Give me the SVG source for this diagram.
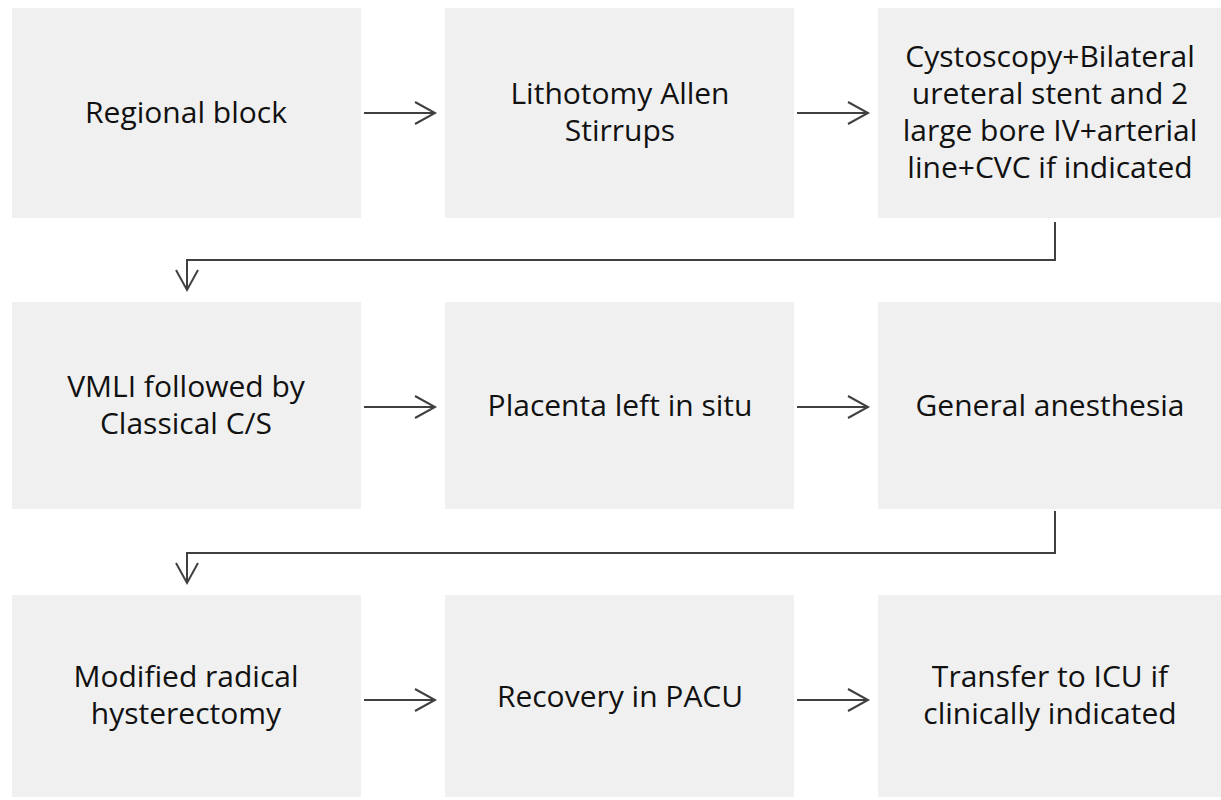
<svg xmlns="http://www.w3.org/2000/svg" width="1221" height="800" viewBox="0 0 1221 800">
<style>
.box{fill:#f0f0f0}
.t{font-family:"Open Sans","Liberation Sans",sans-serif;font-size:30px;fill:#111111;text-anchor:middle}
.c{fill:none;stroke:#404040;stroke-width:2}
</style>
<defs>
<marker id="ah" markerUnits="userSpaceOnUse" markerWidth="26" markerHeight="30" viewBox="-22 -13 26 26" refX="0" refY="0" orient="auto">
<path d="M-20,-11 L0,0 L-20,11" fill="none" stroke="#404040" stroke-width="2"/>
</marker>
</defs>
<rect width="1221" height="800" fill="#ffffff"/>
<g id="n1"><rect class="box" x="12" y="8" width="349" height="210"/><text class="t" x="186" y="123">Regional block</text></g>
<g id="n2"><rect class="box" x="445" y="8" width="349" height="210"/><text class="t" x="620" y="104">Lithotomy Allen</text><text class="t" x="620" y="141">Stirrups</text></g>
<g id="n3"><rect class="box" x="878" y="8" width="343" height="210"/><text class="t" x="1050" y="67">Cystoscopy+Bilateral</text><text class="t" x="1050" y="104">ureteral stent and 2</text><text class="t" x="1050" y="141">large bore IV+arterial</text><text class="t" x="1050" y="178">line+CVC if indicated</text></g>
<g id="n4"><rect class="box" x="12" y="302" width="349" height="207"/><text class="t" x="186" y="397">VMLI followed by</text><text class="t" x="186" y="434">Classical C/S</text></g>
<g id="n5"><rect class="box" x="445" y="302" width="349" height="207"/><text class="t" x="620" y="416">Placenta left in situ</text></g>
<g id="n6"><rect class="box" x="878" y="302" width="343" height="207"/><text class="t" x="1050" y="416">General anesthesia</text></g>
<g id="n7"><rect class="box" x="12" y="595" width="349" height="202"/><text class="t" x="186" y="687">Modified radical</text><text class="t" x="186" y="724">hysterectomy</text></g>
<g id="n8"><rect class="box" x="445" y="595" width="349" height="202"/><text class="t" x="620" y="707">Recovery in PACU</text></g>
<g id="n9"><rect class="box" x="878" y="595" width="343" height="202"/><text class="t" x="1050" y="687">Transfer to ICU if</text><text class="t" x="1050" y="724">clinically indicated</text></g>
<g id="connectors">
<path class="c" d="M364,113 H435" marker-end="url(#ah)"/>
<path class="c" d="M797,113 H868" marker-end="url(#ah)"/>
<path class="c" d="M1055,222 V260 H187 V290" marker-end="url(#ah)"/>
<path class="c" d="M364,407 H435" marker-end="url(#ah)"/>
<path class="c" d="M797,407 H868" marker-end="url(#ah)"/>
<path class="c" d="M1055,511 V553 H187 V583" marker-end="url(#ah)"/>
<path class="c" d="M364,700 H435" marker-end="url(#ah)"/>
<path class="c" d="M797,700 H868" marker-end="url(#ah)"/>
</g>
</svg>
